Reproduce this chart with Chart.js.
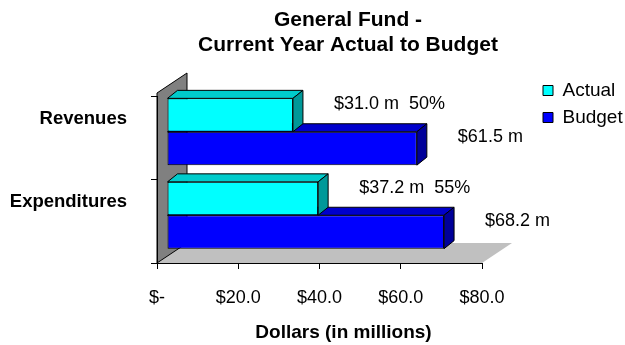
<!DOCTYPE html>
<html>
<head>
<meta charset="utf-8">
<script src="https://cdn.jsdelivr.net/npm/chart.js@4"></script>
<style>
  body { margin: 0; background: #fff; }
</style>
</head>
<body>
<canvas id="fundChart" width="625" height="345"></canvas>
<script>
const categories = ['Revenues', 'Expenditures'];
const actualValues = [31.0, 37.2];
const budgetValues = [61.5, 68.2];
const xTickValues = [0, 20, 40, 60, 80];

// fake 3D: bars sit a little back in the box and get a top + side face
const BAR_SHIFT = { x: 10, y: -6 };
const BAR_DEPTH = { x: 10, y: -8 };
const BOX_DEPTH = { x: 30, y: -20 };

const faceColors = {
  Actual: { top: '#00cccc', side: '#009999' },
  Budget: { top: '#0000cc', side: '#000099' }
};

const FONT = '"Liberation Sans", Arial, sans-serif';
Chart.defaults.font.family = FONT;
Chart.defaults.color = '#000';

function money(v) {
  return v === 0 ? '$-' : '$' + v.toFixed(1);
}

function poly(ctx, pts, fill) {
  ctx.beginPath();
  ctx.moveTo(pts[0][0], pts[0][1]);
  for (let i = 1; i < pts.length; i++) ctx.lineTo(pts[i][0], pts[i][1]);
  ctx.closePath();
  ctx.fillStyle = fill;
  ctx.fill();
  ctx.stroke();
}

function moveBox(box, dx, dy) {
  box.left += dx; box.right += dx;
  box.top += dy; box.bottom += dy;
}

const threeD = {
  id: 'threeD',
  afterLayout(chart) {
    const a = chart.chartArea;
    // legend floats up and right of the plot box
    const lg = chart.legend;
    moveBox(lg, a.right + 53 - lg.left, a.top - 23 - lg.top);
    // title is centred over the box including its depth
    const t = chart.titleBlock;
    moveBox(t, chart.width / 2 + 35.5 - (t.left + t.right) / 2, 0);
  },
  beforeDraw(chart) {
    const { ctx, chartArea: a } = chart;
    const dx = BOX_DEPTH.x, dy = BOX_DEPTH.y;
    ctx.save();
    // floor
    ctx.beginPath();
    ctx.moveTo(a.left, a.bottom);
    ctx.lineTo(a.right, a.bottom);
    ctx.lineTo(a.right + dx, a.bottom + dy);
    ctx.lineTo(a.left + dx, a.bottom + dy);
    ctx.closePath();
    ctx.fillStyle = '#c0c0c0';
    ctx.fill();
    // left wall
    ctx.strokeStyle = '#000';
    ctx.lineWidth = 1;
    poly(ctx, [
      [a.left, a.bottom],
      [a.left, a.top - 3],
      [a.left + dx, a.top - 3 + dy],
      [a.left + dx, a.bottom + dy]
    ], '#808080');
    ctx.restore();
  },
  beforeDatasetsDraw(chart) {
    chart.ctx.save();
    chart.ctx.translate(BAR_SHIFT.x, BAR_SHIFT.y);
  },
  afterDatasetDraw(chart, args) {
    const ctx = chart.ctx;
    const colors = faceColors[chart.data.datasets[args.index].label];
    ctx.save();
    ctx.strokeStyle = '#000';
    ctx.lineWidth = 1;
    args.meta.data.forEach(bar => {
      const { x, y, base, height } = bar.getProps(['x', 'y', 'base', 'height'], true);
      const top = y - height / 2, bottom = y + height / 2;
      const dx = BAR_DEPTH.x, dy = BAR_DEPTH.y;
      poly(ctx, [[base, top], [x, top], [x + dx, top + dy], [base + dx, top + dy]], colors.top);
      poly(ctx, [[x, top], [x + dx, top + dy], [x + dx, bottom + dy], [x, bottom]], colors.side);
    });
    ctx.restore();
  },
  afterDatasetsDraw(chart) {
    const ctx = chart.ctx;
    ctx.restore();
    // value labels beside each bar
    ctx.save();
    ctx.font = '18px ' + FONT;
    ctx.fillStyle = '#000';
    ctx.textAlign = 'left';
    ctx.textBaseline = 'middle';
    chart.data.datasets.forEach((ds, i) => {
      chart.getDatasetMeta(i).data.forEach((bar, j) => {
        const v = ds.data[j];
        let text = money(v) + ' m';
        if (ds.label === 'Actual') {
          text += '  ' + Math.round(v / budgetValues[j] * 100) + '%';
        }
        ctx.fillText(text, bar.x + BAR_SHIFT.x + 41, bar.y + BAR_SHIFT.y - 11);
      });
    });
    ctx.restore();
  },
  afterDraw(chart) {
    const { ctx, chartArea: a } = chart;
    ctx.save();
    ctx.font = 'bold 19px ' + FONT;
    ctx.fillStyle = '#000';
    ctx.textAlign = 'center';
    ctx.textBaseline = 'middle';
    ctx.fillText('Dollars (in millions)', (a.left + a.right) / 2 + 24, 333);
    ctx.restore();
  }
};

new Chart(document.getElementById('fundChart'), {
  type: 'bar',
  data: {
    labels: categories,
    datasets: [
      {
        label: 'Actual',
        data: actualValues,
        backgroundColor: '#00ffff',
        borderColor: '#000',
        borderWidth: 1,
        borderSkipped: false,
        categoryPercentage: 0.8,
        barPercentage: 1
      },
      {
        label: 'Budget',
        data: budgetValues,
        backgroundColor: '#0000ff',
        borderColor: '#000',
        borderWidth: 1,
        borderSkipped: false,
        categoryPercentage: 0.8,
        barPercentage: 1
      }
    ]
  },
  options: {
    indexAxis: 'y',
    responsive: false,
    animation: false,
    devicePixelRatio: 1,
    layout: { padding: { left: 3, right: 53, top: 0, bottom: 0 } },
    scales: {
      x: {
        min: 0,
        max: 80,
        afterBuildTicks(s) {
          s.ticks = xTickValues.map(v => ({ value: v }));
        },
        afterFit(s) { s.height = 82; },
        ticks: {
          callback: v => money(v),
          font: { size: 18 },
          padding: 18,
          maxRotation: 0
        },
        grid: { drawOnChartArea: false, tickLength: 6, color: '#000' },
        border: { color: '#000' }
      },
      y: {
        afterFit(s) { s.width = 154; },
        ticks: {
          font: { size: 18.5, weight: 'bold' },
          padding: 24,
          labelOffset: -19
        },
        grid: { drawOnChartArea: false, tickLength: 6, color: '#000', offset: true },
        border: { color: '#000' }
      }
    },
    plugins: {
      title: {
        display: true,
        text: ['General Fund -', 'Current Year Actual to Budget'],
        font: { size: 21, weight: 'bold', lineHeight: 25 / 21 },
        color: '#000',
        padding: { top: 7.5, bottom: 38.5 }
      },
      legend: {
        position: 'right',
        align: 'start',
        maxWidth: 90,
        labels: {
          boxWidth: 10,
          boxHeight: 10,
          font: { size: 19 },
          color: '#000',
          padding: 8
        }
      },
      tooltip: { enabled: false }
    }
  },
  plugins: [threeD]
});
</script>
</body>
</html>
